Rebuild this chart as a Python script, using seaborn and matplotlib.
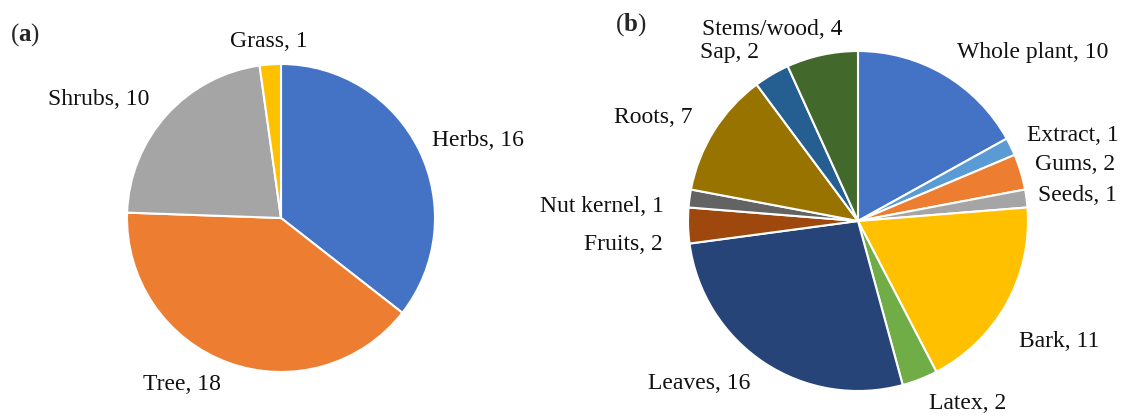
import numpy as np
import matplotlib
matplotlib.use("Agg")
import matplotlib.pyplot as plt
import seaborn as sns

# (a) growth form
habit_names = ["Herbs", "Tree", "Shrubs", "Grass"]
habit_counts = [16, 18, 10, 1]
habit_colors = ["#4472C4", "#ED7D31", "#A5A5A5", "#FFC000"]

# (b) plant part used
part_names = ["Whole plant", "Extract", "Gums", "Seeds", "Bark", "Latex",
              "Leaves", "Fruits", "Nut kernel", "Roots", "Sap", "Stems/wood"]
part_counts = [10, 1, 2, 1, 11, 2, 16, 2, 1, 7, 2, 4]
part_colors = ["#4472C4", "#5B9BD5", "#ED7D31", "#A5A5A5", "#FFC000", "#70AD47",
               "#264478", "#9E480E", "#636363", "#997300", "#255E91", "#43682B"]

sns.set_style("white")
plt.rcParams["font.family"] = ["Liberation Serif", "DejaVu Serif"]
plt.rcParams["mathtext.fontset"] = "custom"
plt.rcParams["mathtext.rm"] = "Liberation Serif"
plt.rcParams["mathtext.bf"] = "Liberation Serif:bold"

W, H = 1121, 416
fig = plt.figure(figsize=(W / 100, H / 100), dpi=100)


def pie_axes(cx, cy, r):
    # square axes in pixel units, data range -1..1
    return fig.add_axes([(cx - r) / W, (H - cy - r) / H, 2 * r / W, 2 * r / H])


def draw_pie(ax, names, counts, colors, nudges):
    labels = [f"{n}, {c}" for n, c in zip(names, counts)]
    wedges, texts = ax.pie(counts, labels=labels, colors=colors, startangle=90,
                           counterclock=False, labeldistance=1.15,
                           wedgeprops=dict(edgecolor="white", linewidth=1.5),
                           textprops=dict(fontsize=17, color="#111111"))
    for t, n in zip(texts, names):
        if n in nudges:
            x, y = t.get_position()
            dx, dy, ha = nudges[n]
            t.set_position((x + dx, y + dy))
            if ha:
                t.set_horizontalalignment(ha)
    ax.set_xlim(-1, 1)
    ax.set_ylim(-1, 1)
    ax.set_aspect("equal")
    ax.axis("off")


ax_a = pie_axes(281, 218, 154)
draw_pie(ax_a, habit_names, habit_counts, habit_colors,
         {"Grass": (0.0, 0.0, "center"),
          "Herbs": (-0.05, 0.0, None)})

ax_b = pie_axes(858, 221, 170)
draw_pie(ax_b, part_names, part_counts, part_colors,
         {"Extract": (-0.04, 0.0, None),
          "Gums": (-0.06, 0.0, None),
          "Seeds": (-0.08, 0.0, None),
          "Bark": (-0.06, -0.15, None),
          "Fruits": (0.0, -0.11, None),
          "Nut kernel": (0.0, -0.07, None),
          "Stems/wood": (0.15, 0.0, None)})

fig.text(10 / W, 1 - 35 / H, r"($\mathbf{a}$)", fontsize=18, va="center")
fig.text(615 / W, 1 - 25 / H, r"($\mathbf{b}$)", fontsize=18, va="center")

fig.savefig("out.png", dpi=100, facecolor="white")
